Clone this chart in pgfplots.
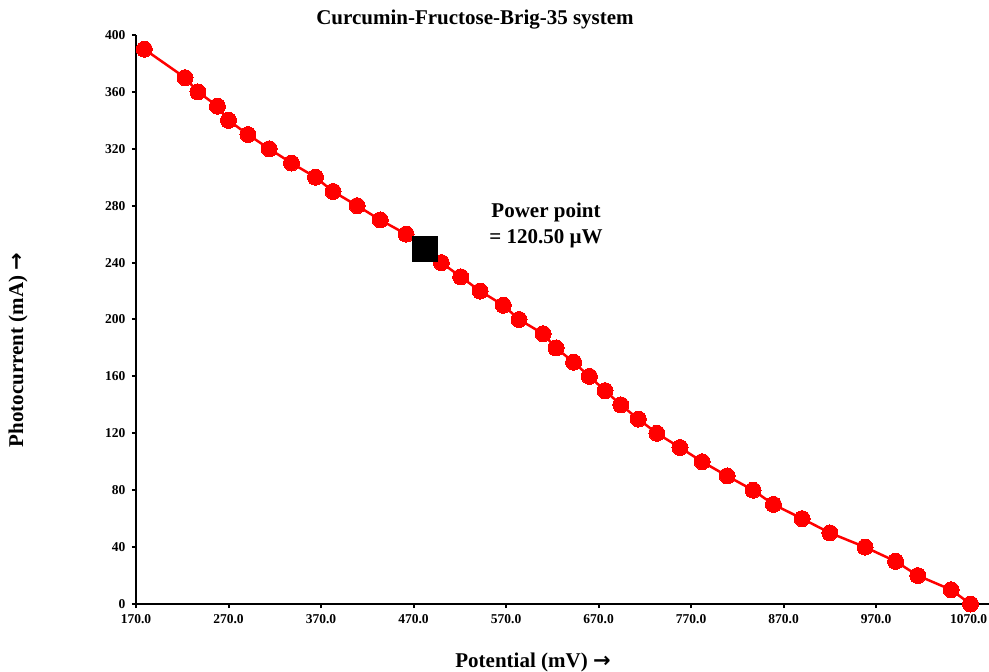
\documentclass[border=0pt]{standalone}
\usepackage{pgfplots}
\pgfplotsset{compat=1.18}
\usepackage{fontspec}
\setmainfont{Liberation Serif}
\newfontfamily\arrowfont{DejaVu Sans}
\definecolor{ptred}{RGB}{255,0,0}
\begin{document}
\begin{tikzpicture}
\begin{axis}[
  scale only axis, width=853pt, height=569pt,
  xmin=170, xmax=1092, ymin=0, ymax=400,
  axis lines*=left,
  axis line style={line width=2.5pt, black},
  clip=false,
  xtick={170,270,...,1070}, ytick={0,40,...,400},
  tick style={line width=2pt, black},
  tick align=outside, major tick length=4pt,
  x tick label style={font=\bfseries\fontsize{13.5}{15}\selectfont, yshift=-3pt},
  y tick label style={font=\bfseries\fontsize{13.5}{15}\selectfont, xshift=-3pt},
  xticklabel={\pgfmathprintnumber[fixed,fixed zerofill,precision=1,1000 sep={}]{\tick}},
  yticklabel={\pgfmathprintnumber[fixed,1000 sep={}]{\tick}},
  /pgf/number format/assume math mode=true,
]
\coordinate (o) at (axis description cs:0,0);
\coordinate (t) at (axis description cs:1,1);
\addplot[color=ptred, line width=2.5pt, mark=*, mark size=8pt, mark options={fill=ptred, draw=ptred, line width=0pt}] coordinates {
(179,390) (223,370) (237,360) (258,350) (270,340) (291,330) (314,320) (338,310)
(364,300) (383,290) (409,280) (434,270) (462,260) (482,250) (500,240) (521,230)
(542,220) (567,210) (584,200) (610,190) (624,180) (643,170) (660,160) (677,150)
(694,140) (713,130) (733,120) (758,110) (782,100) (809,90) (837,80) (859,70)
(890,60) (920,50) (958,40) (991,30) (1015,20) (1051,10) (1072,0)
};
\addplot[only marks, mark=square*, mark size=12.5pt, mark options={fill=black, draw=black}] coordinates {(482,250)};
\node[font=\bfseries\fontsize{21}{26}\selectfont, align=center] at ([xshift=410pt,yshift=379pt]axis description cs:0,0) {Power point\\= 120.50 µW};
\node[font=\bfseries\fontsize{21}{25}\selectfont] at ([yshift=15pt,xshift=339pt]axis description cs:0,1) {Curcumin-Fructose-Brig-35 system};
\node[font=\bfseries\fontsize{21}{25}\selectfont, rotate=90] at ([xshift=-118pt,yshift=254pt]axis description cs:0,0) {Photocurrent (mA) {\arrowfont →}};
\node[font=\bfseries\fontsize{21}{25}\selectfont] at ([yshift=-58pt,xshift=397pt]axis description cs:0,0) {Potential (mV) {\arrowfont →}};
\end{axis}
\pgfresetboundingbox
\path ([shift={(-136pt,-67pt)}]o) rectangle ([shift={(0pt,35pt)}]t);
\end{tikzpicture}
\end{document}
